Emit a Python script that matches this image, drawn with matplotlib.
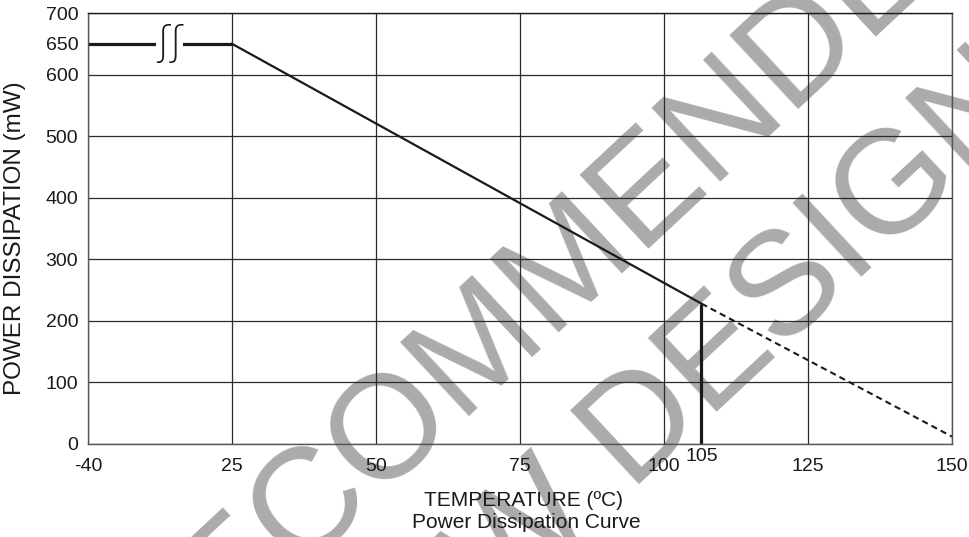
import numpy as np
import matplotlib
matplotlib.use("Agg")
import matplotlib.pyplot as plt

plt.rcParams['font.family'] = ['Liberation Sans', 'DejaVu Sans']

# derating curve
curve_temp = [-40, 25, 106.5]
curve_power = [650, 650, 228]
# extension past the cut-off (dashed)
ext_temp = [106.5, 150]
ext_power = [228, 12]
cutoff_label = "105"

x_ticks = [-40, 25, 50, 75, 100, 125, 150]
x_tick_labels = ["-40", "25", "50", "75", "100", "125", "150"]
y_ticks = [0, 100, 200, 300, 400, 500, 600, 700]
y_extra_tick = 650


def xpos(t):
    # broken axis: -40..25 squeezed into one grid cell
    t = np.asarray(t, dtype=float)
    return np.where(t < 25, 25 * (t + 40) / 65, t)


fig = plt.figure(figsize=(9.69, 5.37), dpi=100)
ax = fig.add_axes([88 / 969, 93 / 537, 864 / 969, 431 / 537])
ax.patch.set_alpha(0)

# watermark behind everything
fig.text(486 / 969, 1 - 462 / 537, "NOT RECOMMENDED\nFOR NEW DESIGN",
         rotation=43, ha='center', va='center', multialignment='center',
         fontsize=106, color='#ababab', linespacing=1.28, zorder=-5)

# flat part and slope
ax.plot(xpos(curve_temp[:2]), curve_power[:2], color='#1a1a1a', lw=2.3, solid_capstyle='butt')
ax.plot(xpos(curve_temp[1:]), curve_power[1:], color='#1a1a1a', lw=1.6)
ax.plot(xpos(ext_temp), ext_power, color='#1a1a1a', lw=1.5, ls=(0, (3, 2)))
ax.plot(xpos([curve_temp[-1], curve_temp[-1]]), [0, curve_power[-1]],
        color='#1a1a1a', lw=2.3, solid_capstyle='butt')

# axis break mark
ax.text(float(xpos(-3)), y_extra_tick, "ʃʃ", family='DejaVu Sans', fontweight='light',
        fontsize=29, ha='center', va='center', color='#1a1a1a',
        bbox=dict(facecolor='white', edgecolor='none', pad=0))

ax.set_xlim(0, 150)
ax.set_ylim(0, 700)
ax.set_xticks(xpos(x_ticks))
ax.set_xticklabels(x_tick_labels)
ax.set_yticks(y_ticks)
ax.set_yticks([y_extra_tick], minor=True)
ax.set_yticklabels([str(y_extra_tick)], minor=True)
ax.tick_params(axis='both', which='both', length=0, labelsize=14, colors='#1a1a1a')
ax.tick_params(axis='x', pad=10)
ax.tick_params(axis='y', which='both', pad=7)

ax.grid(True, which='major', color='#2a2a2a', lw=0.9)
for s in ax.spines.values():
    s.set_color('#555555')
    s.set_linewidth(1.0)
ax.spines['top'].set_color('#1a1a1a')

ax.text(float(xpos(curve_temp[-1])), -0.01, cutoff_label, transform=ax.get_xaxis_transform(),
        ha='center', va='top', fontsize=14, color='#1a1a1a')

fig.text(524 / 969, 1 - 500 / 537, "TEMPERATURE (ºC)", ha='center', va='center',
         fontsize=15, color='#1a1a1a')
fig.text(526 / 969, 1 - 523 / 537, "Power Dissipation Curve", ha='center', va='center',
         fontsize=15, color='#1a1a1a')
fig.text(15 / 969, 1 - 238 / 537, "POWER DISSIPATION (mW)", rotation=90,
         ha='center', va='center', fontsize=17.5, color='#1a1a1a')

fig.savefig("out.png", dpi=100)
